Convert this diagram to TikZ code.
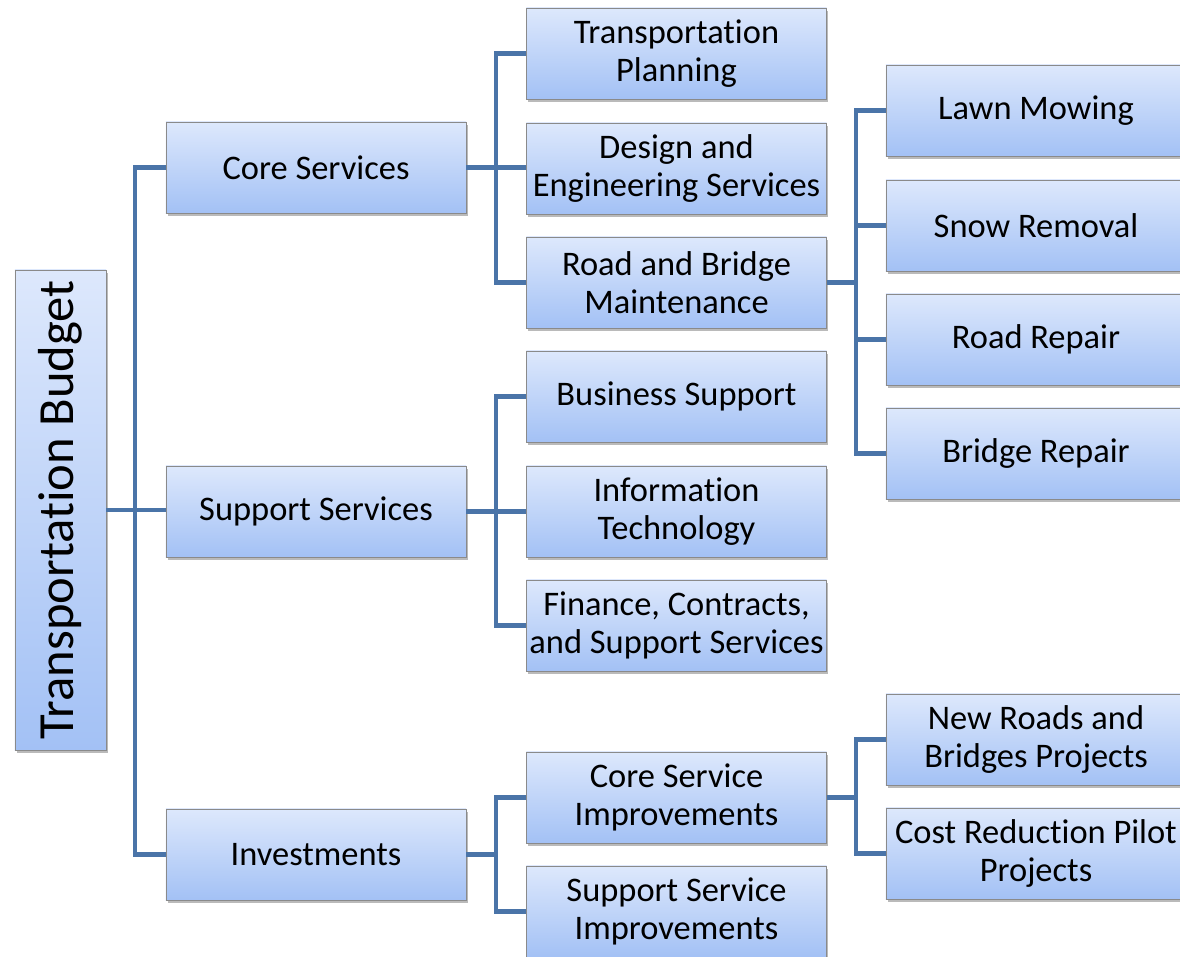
\documentclass[tikz,border=0pt]{standalone}
\usepackage{fontspec}
\setmainfont[Ligatures={NoCommon}]{Carlito}
\usetikzlibrary{shadows}
\definecolor{conncol}{HTML}{4A74A8}
\definecolor{boxtop}{HTML}{DDE8FC}
\definecolor{boxbot}{HTML}{A3C1F5}
\definecolor{boxline}{HTML}{8A8A8A}
\tikzset{
  box/.style={draw=boxline, line width=0.6pt, top color=boxtop, bottom color=boxbot,
    minimum width=7.5cm, minimum height=2.275cm, align=center, inner sep=0pt,
    font=\fontsize{24.5}{27}\selectfont,
    drop shadow={shadow xshift=1.2pt, shadow yshift=-2.2pt, opacity=0.45, fill=black!60}},
  rootbox/.style={box, minimum width=12cm, minimum height=2.275cm, rotate=90,
    font=\fontsize{36}{40}\selectfont},
  conn/.style={draw=conncol, line width=2.9pt}
}
\begin{document}
\begin{tikzpicture}[x=0.025cm, y=-0.025cm]
\useasboundingbox (0,0) rectangle (1180,957);
% root
\node[rootbox] (root) at (60.5,510) {Transportation Budget};
% level 1
\node[box] (core) at (316,167.5) {Core Services};
\node[box] (sup) at (316,511.5) {Support Services};
\node[box] (inv) at (316,854.5) {Investments};
% level 2
\node[box] (tp) at (676.5,53.5) {Transportation\\Planning};
\node[box] (de) at (676.5,168.5) {Design and\\Engineering Services};
\node[box] (rb) at (676.5,282.5) {Road and Bridge\\Maintenance};
\node[box] (bs) at (676.5,396.5) {Business Support};
\node[box] (it) at (676.5,511.5) {Information\\Technology};
\node[box] (fin) at (676.5,625.5) {Finance, Contracts,\\and Support Services};
\node[box] (csi) at (676.5,797.5) {Core Service\\Improvements};
\node[box] (ssi) at (676.5,911.5) {Support Service\\Improvements};
% level 3
\node[box] (lawn) at (1036,110.5) {Lawn Mowing};
\node[box] (snow) at (1036,225.5) {Snow Removal};
\node[box] (rr) at (1036,339.5) {Road Repair};
\node[box] (br) at (1036,453.5) {Bridge Repair};
\node[box] (nr) at (1036,739.5) {New Roads and\\Bridges Projects};
\node[box] (cr) at (1036,853.5) {Cost Reduction Pilot\\Projects};
% connectors
\draw[conn] (root.south) -- (root.south -| sup.west);
\draw[conn] (core.west) -- ++(-31,0) |- (inv.west);
\draw[conn] (core.east) -- (core.east -| de.west);
\draw[conn] (tp.west) -- ++(-30,0) |- (rb.west);
\draw[conn] (sup.east) -- (sup.east -| it.west);
\draw[conn] (bs.west) -- ++(-30,0) |- (fin.west);
\draw[conn] (inv.east) -- ++(30,0);
\draw[conn] (csi.west) -- ++(-30,0) |- (ssi.west);
\draw[conn] (rb.east) -- ++(29,0);
\draw[conn] (lawn.west) -- ++(-30,0) |- (br.west);
\draw[conn] (snow.west) -- ++(-30,0);
\draw[conn] (rr.west) -- ++(-30,0);
\draw[conn] (csi.east) -- ++(29,0);
\draw[conn] (nr.west) -- ++(-30,0) |- (cr.west);
\end{tikzpicture}
\end{document}
